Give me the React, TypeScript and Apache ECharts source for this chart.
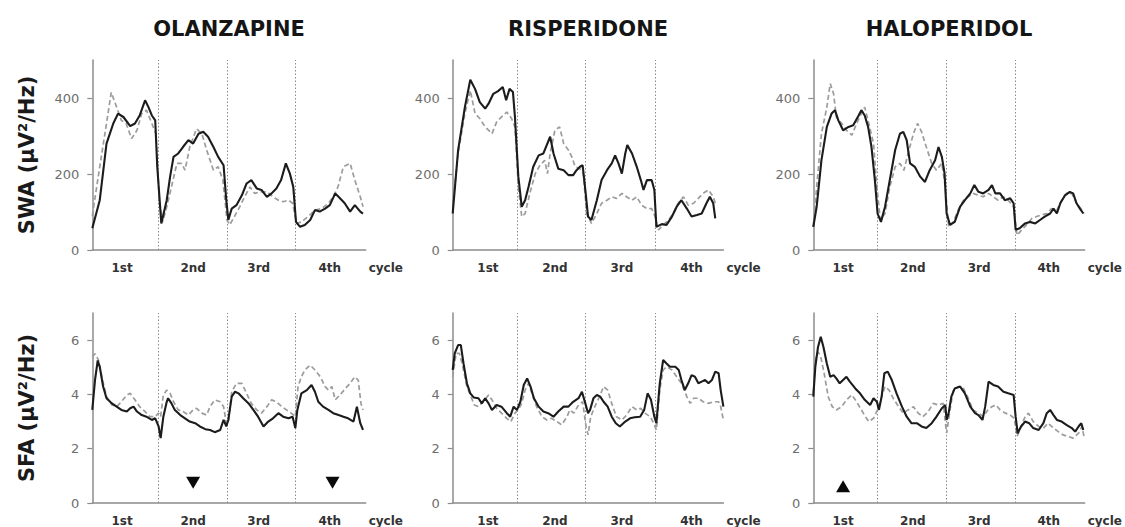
import React, { useEffect, useRef } from 'react';
import * as echarts from 'echarts';

// Panel headers, cycle labels and tick values
const drugNames = ['OLANZAPINE', 'RISPERIDONE', 'HALOPERIDOL'];
const rowTitles = ['SWA (µV²/Hz)', 'SFA (µV²/Hz)'];
const cycleLabels = ['1st', '2nd', '3rd', '4th'];
const swaTicks = [0, 200, 400];
const sfaTicks = [0, 2, 4, 6];
const swaMax = 500;
const sfaMax = 7;

// Cycle boundaries (dotted lines), label centres and axis extent, per drug
const cycleBounds = [
  [0.97, 1.99, 3.0],
  [0.95, 1.96, 2.99],
  [0.95, 1.97, 2.98],
];
const cycleLabelPos = [
  [0.44, 1.49, 2.46, 3.51],
  [0.52, 1.51, 2.5, 3.53],
  [0.44, 1.47, 2.45, 3.48],
];
const axisEnd = [4.04, 4.0, 4.01];

// SWA, olanzapine
const olzSwaDrug = [[0,57],[0.11,131],[0.21,280],[0.31,333],[0.38,359],[0.46,350],[0.56,326],[0.63,333],[0.7,354],[0.78,394],[0.83,376],[0.88,354],[0.93,341],[0.96,219],[1.02,70],[1.1,131],[1.15,193],[1.2,245],[1.27,254],[1.34,271],[1.42,289],[1.49,280],[1.57,306],[1.64,311],[1.71,298],[1.79,271],[1.86,245],[1.94,223],[1.98,131],[2.01,79],[2.06,109],[2.13,118],[2.21,144],[2.28,175],[2.35,184],[2.43,162],[2.5,158],[2.58,140],[2.65,149],[2.72,162],[2.79,184],[2.86,228],[2.92,201],[2.97,166],[3.01,74],[3.07,61],[3.14,66],[3.22,79],[3.29,105],[3.36,101],[3.44,109],[3.51,118],[3.59,149],[3.66,136],[3.73,123],[3.81,101],[3.88,118],[3.96,101],[4.0,96]];
const olzSwaPlacebo = [[0,90],[0.11,219],[0.21,333],[0.28,415],[0.36,376],[0.43,341],[0.5,333],[0.58,293],[0.66,315],[0.73,359],[0.8,368],[0.88,333],[0.94,306],[0.99,131],[1.04,74],[1.1,114],[1.17,166],[1.25,228],[1.32,228],[1.37,210],[1.44,271],[1.54,319],[1.62,306],[1.69,263],[1.79,210],[1.86,219],[1.93,184],[1.99,79],[2.03,66],[2.1,88],[2.18,114],[2.25,140],[2.33,166],[2.4,149],[2.48,153],[2.58,153],[2.67,140],[2.75,131],[2.82,127],[2.9,131],[2.96,123],[3.02,70],[3.09,74],[3.19,88],[3.29,105],[3.39,109],[3.49,123],[3.56,140],[3.63,166],[3.71,219],[3.81,228],[3.88,184],[3.96,140],[4.0,114]];

// SWA, risperidone
const rspSwaDrug = [[0,96],[0.08,263],[0.18,376],[0.26,448],[0.33,424],[0.4,389],[0.48,372],[0.53,385],[0.6,411],[0.67,418],[0.74,429],[0.79,394],[0.84,424],[0.89,416],[0.92,350],[0.97,193],[1.02,114],[1.07,131],[1.12,166],[1.19,219],[1.27,249],[1.34,254],[1.44,298],[1.49,254],[1.56,214],[1.64,210],[1.71,197],[1.78,197],[1.83,210],[1.88,219],[1.92,223],[1.96,158],[2.0,88],[2.05,79],[2.13,131],[2.2,184],[2.28,210],[2.35,228],[2.4,249],[2.45,228],[2.5,201],[2.55,254],[2.58,276],[2.65,254],[2.72,219],[2.78,184],[2.82,158],[2.87,184],[2.94,184],[2.98,158],[3.01,61],[3.09,68],[3.16,66],[3.24,88],[3.31,114],[3.38,131],[3.46,109],[3.53,88],[3.61,92],[3.68,96],[3.75,123],[3.8,140],[3.85,123],[3.88,83]];
const rspSwaPlacebo = [[0,114],[0.08,254],[0.18,359],[0.26,420],[0.33,359],[0.4,346],[0.48,324],[0.58,306],[0.65,337],[0.72,350],[0.8,363],[0.87,346],[0.92,324],[0.97,166],[1.02,88],[1.07,96],[1.14,149],[1.22,201],[1.29,223],[1.36,236],[1.4,201],[1.44,254],[1.51,315],[1.58,324],[1.64,280],[1.71,263],[1.76,245],[1.81,219],[1.88,214],[1.93,201],[1.98,96],[2.05,70],[2.13,96],[2.2,123],[2.28,131],[2.35,140],[2.42,136],[2.5,149],[2.57,140],[2.65,131],[2.72,140],[2.79,118],[2.87,109],[2.94,109],[2.99,88],[3.04,53],[3.11,66],[3.19,79],[3.26,96],[3.33,123],[3.41,140],[3.48,118],[3.56,123],[3.63,136],[3.7,149],[3.78,158],[3.85,140],[3.88,123]];

// SWA, haloperidol
const halSwaDrug = [[0,61],[0.05,114],[0.12,236],[0.2,324],[0.27,359],[0.32,368],[0.37,341],[0.44,315],[0.52,324],[0.59,328],[0.67,354],[0.71,368],[0.76,354],[0.81,324],[0.86,271],[0.91,184],[0.95,96],[1.0,74],[1.06,114],[1.13,184],[1.21,263],[1.28,306],[1.33,311],[1.38,289],[1.43,228],[1.5,219],[1.58,193],[1.65,179],[1.72,210],[1.8,236],[1.85,271],[1.9,245],[1.94,201],[1.97,96],[2.02,66],[2.09,74],[2.17,114],[2.24,131],[2.32,149],[2.38,171],[2.44,153],[2.51,149],[2.59,158],[2.64,171],[2.69,149],[2.76,149],[2.83,131],[2.91,136],[2.96,123],[2.99,53],[3.05,57],[3.13,70],[3.2,74],[3.28,70],[3.35,79],[3.42,88],[3.5,96],[3.55,109],[3.6,96],[3.65,123],[3.72,144],[3.79,153],[3.84,149],[3.89,123],[3.94,109],[3.99,96]];
const halSwaPlacebo = [[0,61],[0.05,166],[0.12,306],[0.2,376],[0.25,438],[0.3,411],[0.34,350],[0.42,333],[0.49,315],[0.57,302],[0.64,333],[0.71,359],[0.76,376],[0.82,333],[0.89,280],[0.94,166],[0.99,79],[1.06,96],[1.13,166],[1.21,219],[1.28,228],[1.34,210],[1.4,254],[1.48,306],[1.54,333],[1.6,311],[1.67,271],[1.75,228],[1.82,210],[1.9,228],[1.95,166],[2.0,61],[2.07,74],[2.14,105],[2.22,131],[2.29,140],[2.36,149],[2.44,144],[2.51,140],[2.59,149],[2.66,140],[2.73,131],[2.81,140],[2.88,131],[2.96,114],[3.01,39],[3.08,53],[3.15,66],[3.23,83],[3.3,88],[3.37,92],[3.45,96],[3.52,109],[3.6,105],[3.67,131],[3.74,149],[3.82,149],[3.89,123],[3.97,105],[4.0,96]];

// SFA, olanzapine
const olzSfaDrug = [[0,3.43],[0.04,4.53],[0.08,5.25],[0.11,5.02],[0.16,4.29],[0.21,3.86],[0.29,3.67],[0.36,3.55],[0.43,3.43],[0.51,3.37],[0.56,3.49],[0.61,3.55],[0.66,3.37],[0.73,3.24],[0.8,3.18],[0.88,3.06],[0.93,3.12],[0.98,2.82],[1.01,2.39],[1.05,3.18],[1.1,3.73],[1.12,3.86],[1.17,3.67],[1.22,3.43],[1.3,3.24],[1.37,3.12],[1.44,3.0],[1.52,2.94],[1.59,2.82],[1.67,2.72],[1.74,2.69],[1.81,2.61],[1.89,2.69],[1.94,3.06],[1.98,2.82],[2.01,3.06],[2.06,3.92],[2.11,4.1],[2.16,4.04],[2.23,3.86],[2.31,3.67],[2.38,3.43],[2.45,3.18],[2.53,2.82],[2.6,3.0],[2.67,3.12],[2.75,3.31],[2.82,3.18],[2.9,3.12],[2.96,3.18],[3.0,2.76],[3.03,3.43],[3.09,4.04],[3.17,4.16],[3.24,4.35],[3.29,4.1],[3.34,3.73],[3.41,3.55],[3.49,3.43],[3.56,3.31],[3.64,3.24],[3.71,3.18],[3.78,3.12],[3.86,3.0],[3.91,3.55],[3.96,2.94],[4.0,2.69]];
const olzSfaPlacebo = [[0,5.39],[0.04,5.5],[0.09,5.27],[0.14,4.65],[0.21,3.92],[0.29,3.61],[0.36,3.55],[0.43,3.73],[0.51,3.98],[0.56,4.04],[0.63,3.8],[0.7,3.55],[0.78,3.37],[0.85,3.18],[0.93,3.18],[0.98,3.31],[1.01,3.18],[1.05,3.98],[1.1,4.16],[1.15,4.04],[1.2,3.73],[1.27,3.43],[1.34,3.37],[1.42,3.24],[1.49,3.43],[1.54,3.49],[1.62,3.31],[1.69,3.24],[1.74,3.55],[1.81,3.8],[1.89,3.73],[1.94,3.55],[1.98,2.94],[2.01,2.94],[2.06,4.1],[2.13,4.41],[2.21,4.41],[2.28,4.04],[2.35,3.67],[2.43,3.43],[2.5,3.31],[2.58,3.55],[2.65,3.8],[2.72,3.73],[2.8,3.55],[2.87,3.43],[2.94,3.31],[3.0,3.18],[3.04,4.29],[3.09,4.65],[3.14,4.9],[3.22,5.08],[3.29,4.9],[3.37,4.65],[3.44,4.29],[3.49,4.16],[3.54,4.29],[3.59,3.8],[3.66,3.98],[3.74,4.22],[3.81,4.41],[3.88,4.65],[3.93,4.53],[3.97,3.67],[4.0,3.43]];

// SFA, risperidone
const rspSfaDrug = [[0,4.9],[0.03,5.51],[0.08,5.82],[0.12,5.82],[0.16,5.14],[0.21,4.41],[0.26,4.04],[0.31,3.89],[0.38,3.86],[0.43,3.67],[0.48,3.86],[0.53,3.67],[0.58,3.43],[0.65,3.61],[0.72,3.55],[0.8,3.31],[0.85,3.18],[0.9,3.55],[0.95,3.43],[1.0,3.73],[1.05,4.35],[1.1,4.59],[1.15,4.29],[1.2,3.86],[1.27,3.55],[1.34,3.37],[1.41,3.31],[1.49,3.18],[1.56,3.37],[1.64,3.55],[1.71,3.55],[1.78,3.73],[1.86,3.86],[1.91,4.1],[1.96,3.67],[2.0,3.31],[2.03,3.43],[2.08,3.86],[2.13,3.98],[2.18,3.92],[2.23,3.73],[2.29,3.55],[2.35,3.18],[2.41,2.94],[2.47,2.82],[2.55,3.0],[2.62,3.12],[2.69,3.16],[2.77,3.18],[2.83,3.43],[2.88,4.04],[2.93,3.8],[2.98,3.18],[3.01,2.94],[3.06,4.41],[3.11,5.27],[3.16,5.14],[3.21,5.02],[3.29,5.02],[3.34,4.9],[3.38,4.53],[3.43,4.16],[3.48,4.41],[3.53,4.71],[3.58,4.65],[3.63,4.41],[3.68,4.47],[3.73,4.53],[3.78,4.41],[3.83,4.53],[3.88,4.84],[3.93,4.78],[3.96,4.16],[4.0,3.55]];
const rspSfaPlacebo = [[0,4.65],[0.05,5.51],[0.1,5.51],[0.15,5.02],[0.21,4.29],[0.27,3.92],[0.32,3.61],[0.38,3.55],[0.45,3.73],[0.53,3.98],[0.58,3.8],[0.65,3.49],[0.72,3.31],[0.8,3.12],[0.86,3.0],[0.92,3.31],[0.97,3.43],[1.02,3.67],[1.07,4.16],[1.12,4.41],[1.17,4.04],[1.24,3.55],[1.32,3.18],[1.39,3.06],[1.46,3.12],[1.54,3.0],[1.61,2.88],[1.69,3.18],[1.73,3.43],[1.79,3.31],[1.86,3.61],[1.92,3.73],[1.97,2.82],[2.0,2.51],[2.04,3.18],[2.1,3.55],[2.17,3.92],[2.23,4.29],[2.29,4.16],[2.35,3.67],[2.42,3.18],[2.5,3.06],[2.57,3.24],[2.65,3.55],[2.72,3.43],[2.78,3.49],[2.84,3.31],[2.92,3.18],[2.97,2.94],[3.01,2.69],[3.06,4.16],[3.11,4.9],[3.16,5.02],[3.24,4.9],[3.31,4.65],[3.38,4.41],[3.46,3.92],[3.51,3.67],[3.56,3.86],[3.63,3.86],[3.7,3.73],[3.78,3.67],[3.85,3.73],[3.93,3.73],[3.96,3.55],[4.0,3.06]];

// SFA, haloperidol
const halSfaDrug = [[0,3.92],[0.03,5.02],[0.07,5.75],[0.11,6.12],[0.15,5.75],[0.2,5.14],[0.25,4.65],[0.3,4.71],[0.34,4.59],[0.39,4.41],[0.44,4.53],[0.49,4.65],[0.54,4.47],[0.62,4.22],[0.69,4.04],[0.76,3.8],[0.84,3.61],[0.89,3.86],[0.94,3.73],[0.97,3.43],[1.01,3.92],[1.05,4.78],[1.1,4.84],[1.16,4.53],[1.23,4.04],[1.31,3.55],[1.38,3.18],[1.45,2.94],[1.53,2.94],[1.6,2.82],[1.67,2.76],[1.75,2.94],[1.82,3.18],[1.9,3.49],[1.95,3.61],[1.97,3.06],[2.0,3.31],[2.04,3.92],[2.09,4.22],[2.17,4.29],[2.24,4.04],[2.32,3.55],[2.39,3.31],[2.44,3.24],[2.5,3.06],[2.54,3.55],[2.59,4.47],[2.66,4.35],[2.73,4.29],[2.81,4.1],[2.88,4.04],[2.96,3.98],[2.99,3.18],[3.02,2.57],[3.07,2.82],[3.13,3.0],[3.19,2.94],[3.25,2.76],[3.33,2.69],[3.4,2.94],[3.45,3.31],[3.5,3.43],[3.55,3.24],[3.6,3.06],[3.67,3.0],[3.74,2.88],[3.82,2.76],[3.87,2.63],[3.92,2.82],[3.96,2.94],[3.99,2.69]];
const halSfaPlacebo = [[0,4.04],[0.03,5.27],[0.07,5.57],[0.11,5.39],[0.16,4.78],[0.22,3.92],[0.28,3.55],[0.34,3.43],[0.42,3.55],[0.49,3.8],[0.57,3.98],[0.64,3.73],[0.71,3.43],[0.77,3.18],[0.82,3.0],[0.89,3.12],[0.95,3.43],[1.01,3.92],[1.06,4.29],[1.12,4.16],[1.18,3.86],[1.26,3.55],[1.33,3.31],[1.4,3.43],[1.48,3.55],[1.55,3.31],[1.62,3.18],[1.7,3.37],[1.77,3.67],[1.85,3.61],[1.92,3.67],[1.97,2.57],[2.02,3.43],[2.07,4.16],[2.14,4.29],[2.22,4.22],[2.29,3.86],[2.36,3.43],[2.44,3.31],[2.51,3.18],[2.58,3.43],[2.64,3.55],[2.7,3.61],[2.76,3.43],[2.84,3.31],[2.91,3.24],[2.97,3.12],[3.01,2.45],[3.07,2.82],[3.13,3.18],[3.18,3.31],[3.25,3.0],[3.33,2.82],[3.4,2.76],[3.47,2.94],[3.55,2.76],[3.62,2.63],[3.69,2.51],[3.77,2.45],[3.84,2.39],[3.92,2.57],[3.97,2.82],[4.0,2.45]];

const swaDrug = [olzSwaDrug, rspSwaDrug, halSwaDrug];
const swaPlacebo = [olzSwaPlacebo, rspSwaPlacebo, halSwaPlacebo];
const sfaDrug = [olzSfaDrug, rspSfaDrug, halSfaDrug];
const sfaPlacebo = [olzSfaPlacebo, rspSfaPlacebo, halSfaPlacebo];

// Significance markers in the SFA row: [drug index, x, y, direction]
const sfaMarkers: [number, number, number, 'down' | 'up'][] = [
  [0, 1.49, 0.75, 'down'],
  [0, 3.55, 0.75, 'down'],
  [2, 0.44, 0.62, 'up'],
];

// Layout
const FONT = '"DejaVu Sans", Verdana, sans-serif';
const UNIT_PX = 67.67;
const PANEL_LEFT = [92.3, 452.7, 813.3];
const ROW_TOP = [60, 313];
const ROW_H = 190;
const AXIS_GREY = '#8c8c8c';

function buildOption(): echarts.EChartsOption {
  const grid: any[] = [];
  const xAxis: any[] = [];
  const yAxis: any[] = [];
  const series: any[] = [];
  const graphic: any[] = [];

  for (let row = 0; row < 2; row++) {
    for (let col = 0; col < 3; col++) {
      const idx = row * 3 + col;
      const width = axisEnd[col] * UNIT_PX;
      grid.push({ left: PANEL_LEFT[col], top: ROW_TOP[row], width, height: ROW_H, containLabel: false });

      const labelPos = cycleLabelPos[col];
      xAxis.push({
        gridIndex: idx,
        type: 'value',
        min: 0,
        max: axisEnd[col],
        axisLine: { show: true, onZero: false, lineStyle: { color: AXIS_GREY, width: 1.5 } },
        axisTick: { show: false },
        splitLine: { show: false },
        axisLabel: {
          customValues: labelPos,
          formatter: (v: number) => {
            const i = labelPos.findIndex((p) => Math.abs(p - v) < 1e-6);
            return i >= 0 ? cycleLabels[i] : '';
          },
          margin: 12,
          fontSize: 12,
          fontWeight: 'bold',
          color: '#333',
          fontFamily: FONT,
        },
        name: 'cycle',
        nameLocation: 'end',
        nameGap: 3,
        nameTextStyle: {
          fontSize: 12,
          fontWeight: 'bold',
          color: '#333',
          fontFamily: FONT,
          verticalAlign: 'top',
          padding: [12, 0, 0, 0],
        },
      });

      const ticks = row === 0 ? swaTicks : sfaTicks;
      yAxis.push({
        gridIndex: idx,
        type: 'value',
        min: 0,
        max: row === 0 ? swaMax : sfaMax,
        axisLine: { show: true, lineStyle: { color: AXIS_GREY, width: 1.5 } },
        axisTick: { show: true, length: 5, customValues: ticks, lineStyle: { color: AXIS_GREY, width: 1.2 } },
        splitLine: { show: false },
        axisLabel: { customValues: ticks, margin: 13, fontSize: 13, color: '#6e6e6e', fontFamily: FONT },
        name: col === 0 ? rowTitles[row] : '',
        nameLocation: 'middle',
        nameGap: 55,
        nameTextStyle: { fontSize: 21, fontWeight: 'bold', color: '#1a1a1a', fontFamily: FONT },
      });

      const drug = row === 0 ? swaDrug[col] : sfaDrug[col];
      const placebo = row === 0 ? swaPlacebo[col] : sfaPlacebo[col];

      series.push({
        type: 'line',
        name: 'placebo',
        xAxisIndex: idx,
        yAxisIndex: idx,
        data: placebo,
        showSymbol: false,
        symbol: 'none',
        z: 3,
        lineStyle: { color: '#9c9c9c', width: 1.7, type: [5, 3] },
        markLine: {
          silent: true,
          symbol: 'none',
          label: { show: false },
          lineStyle: { color: '#8a8a8a', width: 1, type: [1.5, 2] },
          data: cycleBounds[col].map((x) => ({ xAxis: x })),
          z: 1,
        },
      });
      series.push({
        type: 'line',
        name: 'drug',
        xAxisIndex: idx,
        yAxisIndex: idx,
        data: drug,
        showSymbol: false,
        symbol: 'none',
        z: 4,
        lineStyle: { color: '#1c1c1c', width: 2.1 },
      });

      if (row === 1) {
        const marks = sfaMarkers.filter((m) => m[0] === col);
        if (marks.length) {
          series.push({
            type: 'scatter',
            xAxisIndex: idx,
            yAxisIndex: idx,
            symbol: 'triangle',
            symbolSize: [14, 12],
            itemStyle: { color: '#0a0a0a', opacity: 1 },
            z: 5,
            data: marks.map((m) => ({ value: [m[1], m[2]], symbolRotate: m[3] === 'down' ? 180 : 0 })),
          });
        }
      }

      if (row === 0) {
        graphic.push({
          type: 'text',
          x: PANEL_LEFT[col] + width / 2,
          y: 29,
          style: {
            text: drugNames[col],
            fontSize: 21,
            fontWeight: 'bold',
            fontFamily: FONT,
            fill: '#151515',
            align: 'center',
            verticalAlign: 'middle',
          },
        });
      }
    }
  }

  return {
    animation: false,
    backgroundColor: '#ffffff',
    grid,
    xAxis,
    yAxis,
    series,
    graphic,
  };
}

export default function App() {
  const ref = useRef<HTMLDivElement>(null);
  useEffect(() => {
    if (!ref.current) return;
    const chart = echarts.init(ref.current, undefined, { renderer: 'svg' });
    chart.setOption(buildOption());
    return () => chart.dispose();
  }, []);
  return (
    <div
      ref={ref}
      style={{ position: 'fixed', left: 0, top: 0, width: 1125, height: 527, background: '#fff' }}
    />
  );
}
